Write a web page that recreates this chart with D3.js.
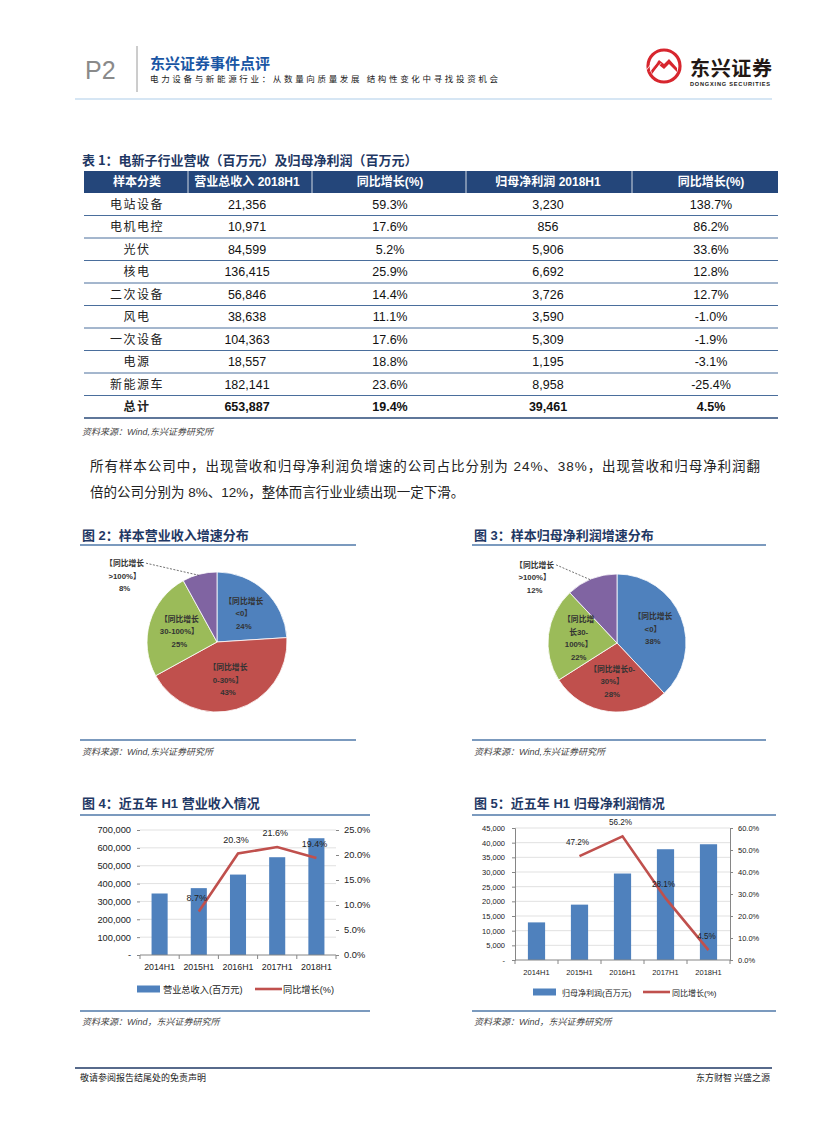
<!DOCTYPE html>
<html><head><meta charset="utf-8">
<script src="https://cdn.jsdelivr.net/npm/d3@7"></script>
<style>body{margin:0;background:#fff}svg{display:block}</style>
</head><body>
<svg id="page" width="827" height="1122"></svg>
<script>
// ---------------- DATA ----------------
const tableHeaders = ['样本分类', '营业总收入 2018H1', '同比增长(%)', '归母净利润 2018H1', '同比增长(%)'];
const tableCategories = ['电站设备', '电机电控', '光伏', '核电', '二次设备', '风电', '一次设备', '电源', '新能源车', '总计'];
const revenue2018H1 = [21356, 10971, 84599, 136415, 56846, 38638, 104363, 18557, 182141, 653887];
const revenueGrowth = [59.3, 17.6, 5.2, 25.9, 14.4, 11.1, 17.6, 18.8, 23.6, 19.4];
const profit2018H1 = [3230, 856, 5906, 6692, 3726, 3590, 5309, 1195, 8958, 39461];
const profitGrowth = [138.7, 86.2, 33.6, 12.8, 12.7, -1.0, -1.9, -3.1, -25.4, 4.5];

const pie2Values = [24, 43, 25, 8];
const pie2Labels = [['【同比增长', '<0】', '24%'], ['【同比增长', '0-30%】', '43%'], ['【同比增长', '30-100%】', '25%'], ['【同比增长', '>100%】', '8%']];
const pie3Values = [38, 28, 22, 12];
const pie3Labels = [['【同比增长', '<0】', '38%'], ['【同比增长0-', '30%】', '28%'], ['【同比增', '长30-', '100%】', '22%'], ['【同比增长', '>100%】', '12%']];

const years = ['2014H1', '2015H1', '2016H1', '2017H1', '2018H1'];
const revenueH1 = [344400, 374400, 450400, 547600, 653887];
const revenueYoY = [null, 8.7, 20.3, 21.6, 19.4];
const profitH1 = [12821, 18873, 29479, 37762, 39461];
const profitYoY = [null, 47.2, 56.2, 28.1, 4.5];

// ---------------- STYLE ----------------
const CJK = '"Noto Sans CJK SC","Noto Sans",sans-serif';
const MIX = '"Liberation Sans","Noto Sans CJK SC",sans-serif';
const NAVY = '#1f3864';
const BLUE = '#4f81bd', RED = '#c0504d', GREEN = '#9bbb59', PURPLE = '#8064a2';
const pieColors = [BLUE, RED, GREEN, PURPLE];

const svg = d3.select('#page');

function txt(g, x, y, s, o = {}) {
  const t = g.append('text').attr('x', x).attr('y', y).text(s)
    .attr('font-family', o.ff || CJK).attr('font-size', o.fs || 12)
    .attr('fill', o.fill || '#000');
  if (o.fw) t.attr('font-weight', o.fw);
  if (o.anchor) t.attr('text-anchor', o.anchor);
  if (o.italic) t.attr('font-style', 'italic');
  if (o.ls) t.attr('letter-spacing', o.ls);
  if (o.tl) t.attr('textLength', o.tl).attr('lengthAdjust', 'spacing');
  return t;
}

// ---------------- HEADER ----------------
txt(svg, 85, 79, 'P2', {ff: '"Liberation Sans",sans-serif', fs: 25, fill: '#8a8a8a'});
svg.append('line').attr('x1', 137).attr('x2', 137).attr('y1', 46).attr('y2', 92).attr('stroke', '#9a9a9a').attr('stroke-width', 1);
txt(svg, 150, 69, '东兴证券事件点评', {fs: 15, fw: 'bold', fill: '#1a56a4'});
txt(svg, 150, 82, '电力设备与新能源行业：从数量向质量发展 结构性变化中寻找投资机会', {fs: 8.5, fill: '#222', tl: 348});

// logo
const logo = svg.append('g').attr('transform', 'translate(664,66)');
logo.append('circle').attr('r', 16).attr('fill', '#fff').attr('stroke', '#d7262e').attr('stroke-width', 3.2);
logo.append('path').attr('d', 'M-13,4 L-5,-6 L0,-2 L5,-7 L13,2 L13,6 L5,-2 L0,3 L-5,-1 L-12,8 Z').attr('fill', '#d7262e');
[-7, -3, 1].forEach(d => logo.append('path').attr('d', `M${-11 + d},${6 + d * 0.2} L${-4 + d},${-3 + d * 0.2}`).attr('stroke', '#fff').attr('stroke-width', 0.8));
txt(svg, 690, 76, '东兴证券', {fs: 20, fw: 'bold', fill: '#231815', tl: 82});
txt(svg, 690, 86, 'DONGXING SECURITIES', {ff: '"Liberation Sans",sans-serif', fs: 5.6, fw: 'bold', fill: '#231815', tl: 80});
svg.append('line').attr('x1', 75).attr('x2', 772).attr('y1', 99).attr('y2', 99).attr('stroke', '#d6e6f4').attr('stroke-width', 2);

// ---------------- TABLE ----------------
txt(svg, 82, 165, '表 1：电新子行业营收（百万元）及归母净利润（百万元）', {fs: 13, fw: 'bold', fill: NAVY});
const tX0 = 84, tX1 = 778;
const colBounds = [84, 188, 312, 466, 632, 778];
const colCenters = [137, 247, 390, 548, 711];
const rowScale = d3.scaleBand().domain(d3.range(tableCategories.length)).range([193, 418]);
const tg = svg.append('g');
tg.append('rect').attr('x', tX0).attr('y', 171).attr('width', tX1 - tX0).attr('height', 22).attr('fill', '#24467a');
colBounds.slice(1, -1).forEach(b => tg.append('line').attr('x1', b).attr('x2', b).attr('y1', 171).attr('y2', 193).attr('stroke', '#ffffff').attr('stroke-width', 0.8));
tableHeaders.forEach((h, i) => txt(tg, colCenters[i], 186, h, {ff: MIX, fs: 12, fw: 'bold', fill: '#fff', anchor: 'middle'}));
const fmtInt = d3.format(',');
const fmtPct = v => v.toFixed(1) + '%';
tableCategories.forEach((c, i) => {
  const y = rowScale(i) + rowScale.bandwidth() / 2 + 4.5;
  const bold = i === tableCategories.length - 1;
  const fw = bold ? 'bold' : null;
  txt(tg, colCenters[0], y, c, {fs: 12, fill: '#222', anchor: 'middle', fw, ls: 1.5});
  txt(tg, colCenters[1], y, fmtInt(revenue2018H1[i]), {ff: MIX, fs: 12.5, fill: '#111', anchor: 'middle', fw});
  txt(tg, colCenters[2], y, fmtPct(revenueGrowth[i]), {ff: MIX, fs: 12.5, fill: '#111', anchor: 'middle', fw});
  txt(tg, colCenters[3], y, fmtInt(profit2018H1[i]), {ff: MIX, fs: 12.5, fill: '#111', anchor: 'middle', fw});
  txt(tg, colCenters[4], y, fmtPct(profitGrowth[i]), {ff: MIX, fs: 12.5, fill: '#111', anchor: 'middle', fw});
  const ly = rowScale(i) + rowScale.bandwidth();
  tg.append('line').attr('x1', tX0).attr('x2', tX1).attr('y1', ly).attr('y2', ly)
    .attr('stroke', bold ? '#2a4a78' : '#4a6e9c').attr('stroke-width', bold ? 1.6 : 1);
});
txt(svg, 82, 435, '资料来源：Wind,东兴证券研究所', {ff: MIX, fs: 9, fill: '#444', italic: true});

// ---------------- PARAGRAPH ----------------
txt(svg, 90, 471, '所有样本公司中，出现营收和归母净利润负增速的公司占比分别为 24%、38%，出现营收和归母净利润翻', {ff: MIX, fs: 13.5, fill: '#222', tl: 670});
txt(svg, 90, 497, '倍的公司分别为 8%、12%，整体而言行业业绩出现一定下滑。', {ff: MIX, fs: 13.5, fill: '#222'});

// ---------------- FIGURE FRAME ----------------
function frame(x0, x1, yTitle, yTop, yBot, title, srcY, src) {
  txt(svg, x0 + 2, yTitle, title, {ff: MIX, fs: 13, fw: 'bold', fill: NAVY});
  svg.append('line').attr('x1', x0).attr('x2', x1).attr('y1', yTop).attr('y2', yTop).attr('stroke', '#4f79a8').attr('stroke-width', 1.6);
  svg.append('line').attr('x1', x0).attr('x2', x1).attr('y1', yBot).attr('y2', yBot).attr('stroke', '#4f79a8').attr('stroke-width', 1.6);
  txt(svg, x0 + 2, srcY, src, {ff: MIX, fs: 9, fill: '#444', italic: true});
}
frame(80, 356, 540, 545, 740, '图 2：样本营业收入增速分布', 755, '资料来源：Wind,东兴证券研究所');
frame(472, 766, 540, 545, 740, '图 3：样本归母净利润增速分布', 755, '资料来源：Wind,东兴证券研究所');
frame(80, 370, 808, 815, 1011, '图 4：近五年 H1 营业收入情况', 1025, '资料来源：Wind，东兴证券研究所');
frame(472, 776, 808, 815, 1011, '图 5：近五年 H1 归母净利润情况', 1025, '资料来源：Wind，东兴证券研究所');

// ---------------- PIES ----------------
function drawPie(cfg, values, labels) {
  const g = svg.append('g').attr('transform', `translate(${cfg.cx},${cfg.cy})`);
  const arcs = d3.pie().sort(null).value(d => d)(values);
  const arc = d3.arc().innerRadius(0).outerRadius(cfg.r);
  const inArc = d3.arc().innerRadius(cfg.r * 0.56).outerRadius(cfg.r * 0.56);
  const edgeArc = d3.arc().innerRadius(cfg.r).outerRadius(cfg.r);
  g.selectAll('path').data(arcs).join('path').attr('d', arc)
    .attr('fill', (d, i) => pieColors[i]).attr('stroke', '#fff').attr('stroke-width', 0.8);
  const lh = 12.5;
  arcs.forEach((a, i) => {
    const lines = labels[i];
    let cx, cy;
    const outside = i === arcs.length - 1;
    if (outside) {
      const e = edgeArc.centroid(a);
      cx = e[0] + cfg.outDx; cy = e[1] + cfg.outDy;
    } else {
      [cx, cy] = inArc.centroid(a);
      cy -= (lines.length - 1) * lh / 2;
    }
    let first;
    lines.forEach((l, k) => {
      const t = txt(g, cx, cy + k * lh + 3, l, {ff: MIX, fs: 7.8, fw: 'bold', fill: '#333', anchor: 'middle'});
      if (k === 0) first = t;
    });
    if (outside) {
      const w = first.node().getComputedTextLength();
      const e = edgeArc.centroid(a);
      g.append('line').attr('x1', cx + w / 2 + 2).attr('y1', cy).attr('x2', e[0] - 1).attr('y2', e[1] + 1)
        .attr('stroke', '#333').attr('stroke-width', 0.7).attr('stroke-dasharray', '2,1.5');
    }
  });
}
drawPie({cx: 217, cy: 642, r: 70, outDx: -75, outDy: -11}, pie2Values, pie2Labels);
drawPie({cx: 617, cy: 643, r: 69, outDx: -57, outDy: -14}, pie3Values, pie3Labels);

// ---------------- COMBO CHARTS ----------------
function drawCombo(c) {
  const g = svg.append('g');
  const x = d3.scaleBand().domain(years).range([c.x0, c.x1]).paddingInner(c.pad).paddingOuter(c.pad / 2);
  const yL = d3.scaleLinear().domain([0, c.lMax]).range([c.y1, c.y0]);
  const yR = d3.scaleLinear().domain([0, c.rMax]).range([c.y1, c.y0]);
  const lTicks = d3.range(0, c.lMax + 1, c.lStep);
  const rTicks = d3.range(0, c.rMax + 0.001, c.rStep);
  g.selectAll('.grid').data(lTicks.slice(1)).join('line')
    .attr('x1', c.x0).attr('x2', c.x1).attr('y1', d => yL(d)).attr('y2', d => yL(d))
    .attr('stroke', '#d9d9d9').attr('stroke-width', 0.8);
  g.selectAll('.bar').data(c.bars).join('rect')
    .attr('x', (d, i) => x(years[i])).attr('width', x.bandwidth())
    .attr('y', d => yL(d)).attr('height', d => c.y1 - yL(d)).attr('fill', BLUE);
  const la = g.append('g').attr('transform', `translate(${c.x0},0)`)
    .call(d3.axisLeft(yL).tickValues(lTicks).tickSize(c.tick).tickPadding(c.lPad)
      .tickFormat(v => v === 0 ? '-' : d3.format(',')(v)));
  la.selectAll('text').attr('font-family', MIX).attr('font-size', c.fs).attr('fill', '#222');
  la.selectAll('.tick line').attr('stroke', '#868686');
  la.select('.domain').attr('stroke', c.axisLines ? '#868686' : 'none');
  const ra = g.append('g').attr('transform', `translate(${c.x1},0)`)
    .call(d3.axisRight(yR).tickValues(rTicks).tickSize(c.tick).tickPadding(c.rPad)
      .tickFormat(v => v.toFixed(1) + '%'));
  ra.selectAll('text').attr('font-family', MIX).attr('font-size', c.fs).attr('fill', '#222');
  ra.selectAll('.tick line').attr('stroke', '#868686');
  ra.select('.domain').attr('stroke', c.axisLines ? '#868686' : 'none');
  g.append('line').attr('x1', c.x0).attr('x2', c.x1).attr('y1', c.y1).attr('y2', c.y1).attr('stroke', '#868686');
  const step = x.step();
  d3.range(years.length + 1).forEach(i => {
    const xx = c.x0 + i * step;
    g.append('line').attr('x1', xx).attr('x2', xx).attr('y1', c.y1).attr('y2', c.y1 + 4).attr('stroke', '#868686');
  });
  years.forEach(yv => txt(g, x(yv) + x.bandwidth() / 2, c.y1 + 15, yv, {ff: MIX, fs: c.xfs, fill: '#222', anchor: 'middle'}));
  const pts = c.line.map((v, i) => ({v, x: x(years[i]) + x.bandwidth() / 2}));
  g.append('path').datum(pts)
    .attr('d', d3.line().defined(d => d.v != null).x(d => d.x).y(d => yR(d.v)))
    .attr('fill', 'none').attr('stroke', RED).attr('stroke-width', 2.6);
  pts.filter(d => d.v != null).forEach(d =>
    txt(g, d.x - 2, yR(d.v) - 11, d.v.toFixed(1) + '%', {ff: MIX, fs: c.dfs, fill: '#222', anchor: 'middle'}));
  const ly = c.legY;
  g.append('rect').attr('x', c.leg[0]).attr('y', ly - 3.5).attr('width', 23).attr('height', 7).attr('fill', BLUE);
  txt(g, c.leg[1], ly + 3.5, c.legText[0], {ff: MIX, fs: c.lfs, fill: '#222'});
  g.append('line').attr('x1', c.leg[2]).attr('x2', c.leg[2] + 27).attr('y1', ly).attr('y2', ly).attr('stroke', RED).attr('stroke-width', 2.6);
  txt(g, c.leg[3], ly + 3.5, c.legText[1], {ff: MIX, fs: c.lfs, fill: '#222'});
}
drawCombo({x0: 140, x1: 336, y0: 830, y1: 955, pad: 0.59, bars: revenueH1, line: revenueYoY,
  lMax: 700000, lStep: 100000, rMax: 25, rStep: 5, tick: 3, lPad: 6, rPad: 5, axisLines: false,
  fs: 9.3, xfs: 8.8, dfs: 9, lfs: 9.2, legY: 989, leg: [137, 163, 255, 283], legText: ['营业总收入(百万元)', '同比增长(%)']});
drawCombo({x0: 515, x1: 730, y0: 828, y1: 960, pad: 0.6, bars: profitH1, line: profitYoY,
  lMax: 45000, lStep: 5000, rMax: 60, rStep: 10, tick: 3, lPad: 7, rPad: 5, axisLines: true,
  fs: 7.5, xfs: 7.5, dfs: 8.2, lfs: 8, legY: 992, leg: [533, 562, 643, 672], legText: ['归母净利润(百万元)', '同比增长(%)']});

// ---------------- FOOTER ----------------
svg.append('line').attr('x1', 75).attr('x2', 772).attr('y1', 1068).attr('y2', 1068).attr('stroke', '#1f3864').attr('stroke-width', 1.6);
txt(svg, 80, 1081, '敬请参阅报告结尾处的免责声明', {fs: 9, fill: '#222'});
txt(svg, 770, 1081, '东方财智 兴盛之源', {fs: 9, fill: '#222', anchor: 'end'});
</script>
</body></html>
